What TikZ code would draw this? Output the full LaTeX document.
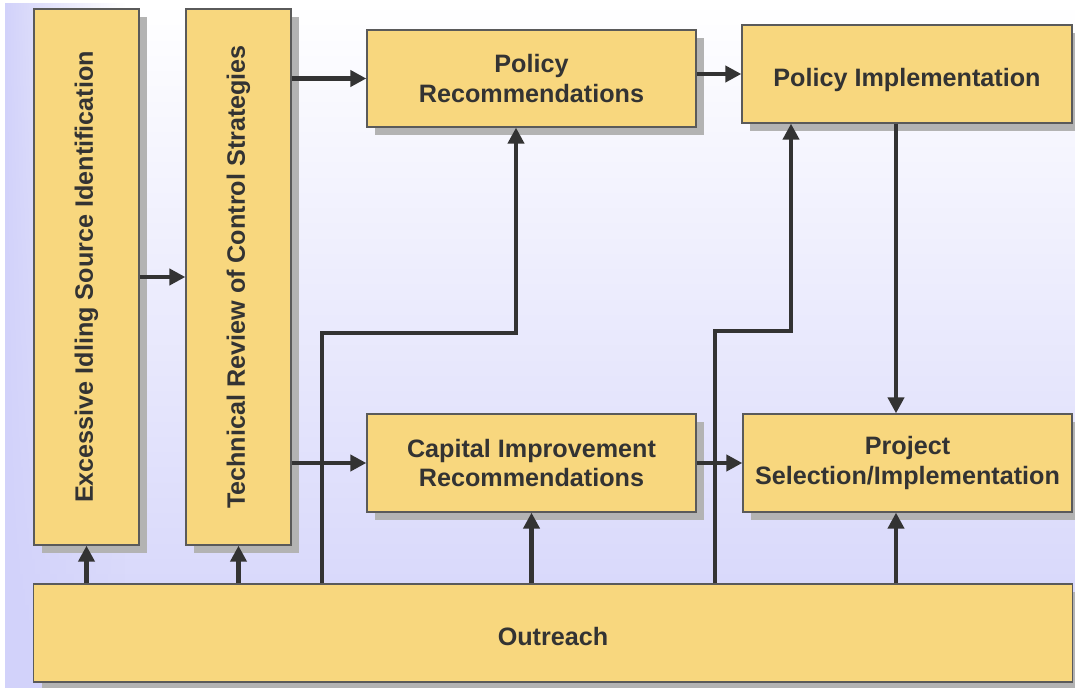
\documentclass[tikz,border=0pt]{standalone}
\usepackage{fontspec}
\setmainfont{Liberation Sans}
\usetikzlibrary{arrows.meta,shadows,fadings}
\definecolor{boxColor}{HTML}{F8D77E}
\definecolor{lineColor}{HTML}{333333}
\definecolor{borderColor}{HTML}{5A5A5A}
\definecolor{shadowColor}{HTML}{B3B3B3}
\definecolor{bgColor}{HTML}{D2D2FA}

\begin{document}
\begin{tikzpicture}[x=0.025cm,y=-0.025cm,
box/.style={draw=borderColor,fill=boxColor,line width=0.9pt,inner sep=0,align=center,
    font=\fontsize{17.9}{21}\selectfont\bfseries,text=lineColor,
    drop shadow={shadow xshift=0.2cm,shadow yshift=-0.2cm,fill=shadowColor,opacity=1}},
arr/.style={line width=3.2pt,draw=lineColor,-{Triangle[length=0.4cm,width=0.4cm]}}
]
\useasboundingbox (0,0) rectangle (1075,688);
\fill[top color=white,bottom color=bgColor] (5,2) rectangle (1075,688);
\fill[bgColor,path fading=east] (5,2) rectangle (125,688);
\node[box,minimum width=2.625cm,minimum height=13.4cm] (idle) at (86.5,277) {\rotatebox{90}{Excessive Idling Source Identification}};
\node[box,minimum width=2.625cm,minimum height=13.4cm] (review) at (238.5,277) {\rotatebox{90}{Technical Review of Control Strategies}};
\node[box,minimum width=8.225cm,minimum height=2.425cm] (polRec) at (531.5,78.5) {Policy\\Recommendations};
\node[box,minimum width=8.25cm,minimum height=2.45cm] (polImpl) at (907,74) {\raisebox{-9pt}[0pt][0pt]{Policy Implementation}};
\node[box,minimum width=8.225cm,minimum height=2.45cm] (capRec) at (531.5,463) {Capital Improvement\\Recommendations};
\node[box,minimum width=8.225cm,minimum height=2.45cm] (project) at (907.5,463) {Project\\Selection/Implementation};
\node[box,minimum width=25.95cm,minimum height=2.45cm] (outreach) at (553,633) {\raisebox{-9pt}[0pt][0pt]{Outreach}};
% bends of the outreach lines
\coordinate (k1) at (322,333);
\coordinate (k2) at (516,333);
\coordinate (k3) at (715,331);
\coordinate (k4) at (791,331);
\coordinate (k5) at (896,0);
\draw[arr] (idle) -- (review);
\draw[arr] (review.east |- polRec) -- (polRec.west);
\draw[arr] (review.east |- capRec) -- (capRec.west);
\draw[arr] (polRec.east |- polImpl) -- (polImpl.west);
\draw[arr] (capRec) -- (project);
\draw[arr] (polImpl.south -| k5) -- (project.north -| k5);
\draw[arr] (outreach.north -| idle) -- (idle.south);
\draw[arr] (outreach.north -| review) -- (review.south);
\draw[arr] (outreach.north -| capRec) -- (capRec.south);
\draw[arr] (outreach.north -| k5) -- (project.south -| k5);
\draw[arr] (outreach.north -| k1) -- (k1) -- (k2) -- (polRec.south -| k2);
\draw[arr] (outreach.north -| k3) -- (k3) -- (k4) -- (polImpl.south -| k4);
\end{tikzpicture}
\end{document}
